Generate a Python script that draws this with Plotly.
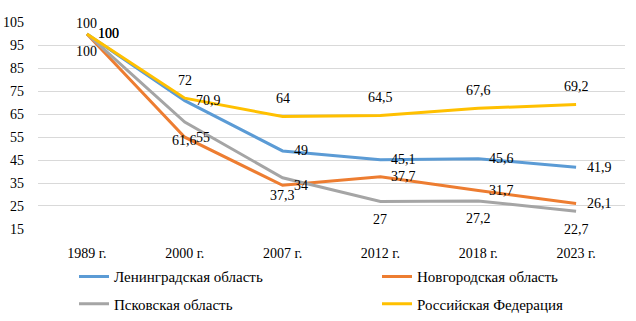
import plotly.graph_objects as go

# Categories (years) and index values, 1989 = 100
years = ["1989 г.", "2000 г.", "2007 г.", "2012 г.", "2018 г.", "2023 г."]
leningrad = [100, 70.9, 49, 45.1, 45.6, 41.9]
novgorod = [100, 55, 34, 37.7, 31.7, 26.1]
pskov = [100, 61.6, 37.3, 27, 27.2, 22.7]
russia = [100, 72, 64, 64.5, 67.6, 69.2]

names = ["Ленинградская область", "Новгородская область",
         "Псковская область", "Российская Федерация"]
colors = ["#5B9BD5", "#ED7D31", "#A5A5A5", "#FFC000"]

FONT = "Liberation Serif"
W, H = 636, 321
# plotting area in page pixels
PLOT_L, PLOT_R, PLOT_T, PLOT_B = 38, 625, 23, 234
Y_MIN, Y_MAX = 15, 105
PX_PER_UNIT = (PLOT_B - PLOT_T) / (Y_MAX - Y_MIN)


def fmt(v):
    return ("%g" % v).replace(".", ",")


# name, values, colour, label placement, legend id
series = [
    (names[0], leningrad, colors[0], "right", "legend"),
    (names[1], novgorod, colors[1], "right", "legend2"),
    (names[2], pskov, colors[2], "below", "legend3"),
    (names[3], russia, colors[3], "above", "legend4"),
]

fig = go.Figure()
annotations = []
for name, vals, col, place, leg in series:
    fig.add_trace(go.Scatter(
        x=years, y=vals, name=name, mode="lines",
        line=dict(color=col, width=3),
        legend=leg, hoverinfo="x+y+name",
    ))
    for x, v in zip(years, vals):
        a = dict(x=x, y=v, text=fmt(v), showarrow=False,
                 font=dict(family=FONT, size=14, color="#000000"))
        if place == "right":
            a.update(xanchor="left", yanchor="middle", xshift=9)
        elif place == "above":
            # keep the label inside the top of the plotting area
            room = (Y_MAX - v) * PX_PER_UNIT - 1
            a.update(xanchor="center", yanchor="middle",
                     yshift=min(18, room))
        else:
            a.update(xanchor="center", yanchor="middle", yshift=-18)
        annotations.append(a)


def legend_box(x_px, top_px):
    # position given in page pixels (paper == whole page, zero margins)
    return dict(orientation="h", xref="paper", yref="paper",
                x=x_px / W, y=1 - top_px / H,
                xanchor="left", yanchor="top",
                font=dict(family=FONT, size=15, color="#000000"),
                bgcolor="rgba(0,0,0,0)")


fig.update_layout(
    width=W, height=H,
    margin=dict(l=0, r=0, t=0, b=0),
    paper_bgcolor="white", plot_bgcolor="white",
    font=dict(family=FONT, size=14, color="#000000"),
    xaxis=dict(type="category", range=[-0.5, 5.5],
               domain=[PLOT_L / W, PLOT_R / W],
               showgrid=False, showline=False, zeroline=False, ticks="",
               ticklabelstandoff=14, automargin=False,
               tickfont=dict(family=FONT, size=14)),
    yaxis=dict(range=[Y_MIN, Y_MAX], tick0=15, dtick=10,
               domain=[1 - PLOT_B / H, 1 - PLOT_T / H],
               showgrid=True, gridcolor="#D9D9D9", gridwidth=1,
               zeroline=False, showline=False, ticks="",
               ticklabelstandoff=13, automargin=False,
               tickfont=dict(family=FONT, size=14)),
    legend=legend_box(74, 266),
    legend2=legend_box(377, 266),
    legend3=legend_box(74, 294),
    legend4=legend_box(377, 294),
    annotations=annotations,
    showlegend=True,
)

fig.write_html("out.html")
